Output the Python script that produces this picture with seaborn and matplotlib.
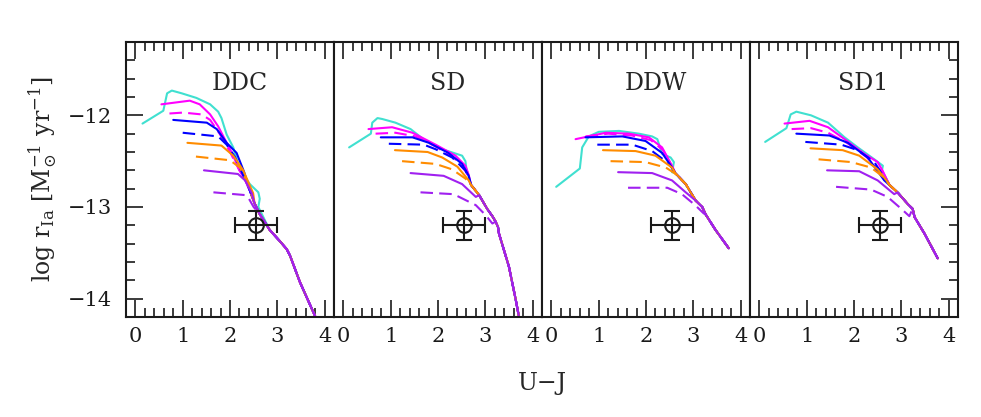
import matplotlib
matplotlib.use("Agg")
import matplotlib.pyplot as plt
import seaborn as sns
from matplotlib.ticker import MultipleLocator

# model names (panel titles)
models = ["DDC", "SD", "DDW", "SD1"]

# observed point with error bars (U-J, log rate)
obs_x, obs_y = 2.55, -13.2
obs_xerr, obs_yerr = 0.45, 0.16

# ---- DDC curves, (U-J, log r) pairs
ddc_cyan = [(0.15, -12.09), (0.59, -11.95), (0.67, -11.76), (0.77, -11.73), (0.98, -11.76),
            (1.29, -11.81), (1.58, -11.88), (1.75, -11.96), (1.82, -12.03), (1.93, -12.21),
            (2.07, -12.35), (2.21, -12.6), (2.42, -12.75), (2.6, -12.84), (2.63, -12.91), (2.6, -13.0)]
ddc_mag_s = [(0.55, -11.88), (1.15, -11.84), (1.36, -11.88), (1.58, -11.99), (1.75, -12.12),
             (1.89, -12.26), (2.05, -12.42), (2.2, -12.6)]
ddc_mag_d = [(0.72, -11.98), (1.01, -11.97), (1.4, -11.99), (1.58, -12.05), (1.78, -12.2),
             (1.95, -12.35), (2.2, -12.6)]
ddc_blue_s = [(0.8, -12.05), (1.51, -12.08), (1.72, -12.15), (1.93, -12.3), (2.14, -12.41), (2.3, -12.62)]
ddc_blue_d = [(1.0, -12.19), (1.75, -12.23), (1.93, -12.32), (2.1, -12.45), (2.25, -12.62)]
ddc_orng_s = [(1.1, -12.3), (1.82, -12.33), (2.07, -12.44), (2.28, -12.6), (2.49, -12.85)]
ddc_orng_d = [(1.28, -12.45), (2.0, -12.49), (2.21, -12.57), (2.35, -12.72)]
ddc_purp_s = [(1.45, -12.6), (2.17, -12.64), (2.32, -12.71), (2.46, -12.85)]
ddc_purp_d = [(1.65, -12.84), (2.32, -12.87), (2.39, -12.9), (2.5, -13.0)]
ddc_tail = [(2.3, -12.68), (2.42, -12.82), (2.52, -12.96), (2.62, -13.07), (2.84, -13.25),
            (3.05, -13.37), (3.2, -13.46), (3.27, -13.53), (3.48, -13.82), (3.8, -14.19), (3.86, -14.28)]

# ---- SD curves
sd_cyan = [(0.12, -12.35), (0.58, -12.2), (0.61, -12.08), (0.72, -12.03), (0.82, -12.04),
           (1.1, -12.08), (1.42, -12.15), (1.74, -12.28), (2.09, -12.37), (2.51, -12.44),
           (2.58, -12.5), (2.6, -12.58)]
sd_mag_s = [(0.53, -12.15), (1.03, -12.13), (1.46, -12.19), (1.95, -12.32), (2.37, -12.44),
            (2.58, -12.55), (2.65, -12.65)]
sd_mag_d = [(0.68, -12.2), (1.1, -12.19), (1.53, -12.23), (1.95, -12.34), (2.35, -12.47), (2.6, -12.62)]
sd_blue_s = [(0.79, -12.24), (1.46, -12.24), (1.81, -12.3), (2.22, -12.41), (2.51, -12.53), (2.65, -12.66)]
sd_blue_d = [(0.96, -12.31), (1.7, -12.32), (1.95, -12.37), (2.3, -12.46), (2.58, -12.6)]
sd_orng_s = [(1.09, -12.38), (1.78, -12.4), (2.09, -12.46), (2.41, -12.56), (2.65, -12.71)]
sd_orng_d = [(1.24, -12.5), (1.95, -12.53), (2.3, -12.59), (2.58, -12.69)]
sd_purp_s = [(1.42, -12.63), (2.12, -12.66), (2.51, -12.75), (2.8, -12.89)]
sd_purp_d = [(1.63, -12.84), (2.33, -12.86), (2.8, -12.98), (3.01, -13.09), (3.15, -13.18)]
sd_tail = [(2.7, -12.76), (2.87, -12.87), (3.04, -13.02), (3.15, -13.1), (3.22, -13.16),
           (3.27, -13.22), (3.29, -13.29), (3.5, -13.65), (3.64, -14.0), (3.71, -14.19), (3.73, -14.3)]

# ---- DDW curves
ddw_cyan = [(0.1, -12.78), (0.6, -12.58), (0.65, -12.35), (0.79, -12.23), (1.0, -12.18),
            (1.43, -12.17), (1.85, -12.2), (2.13, -12.23), (2.24, -12.26), (2.34, -12.42),
            (2.52, -12.46), (2.59, -12.51), (2.55, -12.62)]
ddw_mag_s = [(0.51, -12.26), (1.15, -12.19), (1.64, -12.2), (2.06, -12.24), (2.34, -12.35), (2.55, -12.55)]
ddw_mag_d = [(0.72, -12.23), (1.2, -12.2), (1.7, -12.22), (2.1, -12.27), (2.36, -12.38), (2.55, -12.56)]
ddw_blue_s = [(0.72, -12.24), (1.5, -12.23), (1.99, -12.28), (2.34, -12.41), (2.55, -12.57)]
ddw_blue_d = [(0.97, -12.32), (1.71, -12.32), (2.13, -12.39), (2.49, -12.53)]
ddw_orng_s = [(1.09, -12.38), (1.78, -12.39), (2.2, -12.44), (2.55, -12.57)]
ddw_orng_d = [(1.25, -12.5), (1.99, -12.51), (2.42, -12.57), (2.6, -12.63)]
ddw_purp_s = [(1.41, -12.62), (2.13, -12.63), (2.55, -12.71), (2.84, -12.84)]
ddw_purp_d = [(1.62, -12.79), (2.45, -12.79), (2.76, -12.86), (3.04, -12.98), (3.22, -13.07)]
ddw_tail = [(2.62, -12.63), (2.84, -12.75), (3.05, -12.93), (3.19, -13.0), (3.26, -13.08),
            (3.47, -13.25), (3.75, -13.45)]

# ---- SD1 curves
sd1_cyan = [(0.12, -12.29), (0.57, -12.14), (0.66, -11.99), (0.78, -11.96), (1.09, -12.0),
            (1.45, -12.08), (1.8, -12.24), (2.08, -12.35), (2.43, -12.48), (2.61, -12.55), (2.59, -12.6)]
sd1_mag_s = [(0.53, -12.09), (1.06, -12.06), (1.45, -12.13), (1.8, -12.26), (2.22, -12.42),
             (2.5, -12.51), (2.6, -12.6)]
sd1_mag_d = [(0.68, -12.15), (1.09, -12.14), (1.45, -12.19), (1.85, -12.3), (2.25, -12.45), (2.6, -12.62)]
sd1_blue_s = [(0.78, -12.2), (1.48, -12.22), (1.87, -12.3), (2.29, -12.46), (2.64, -12.71)]
sd1_blue_d = [(0.97, -12.29), (1.73, -12.32), (2.08, -12.38), (2.43, -12.51), (2.64, -12.68)]
sd1_orng_s = [(1.08, -12.36), (1.76, -12.38), (2.11, -12.44), (2.5, -12.59), (2.7, -12.72)]
sd1_orng_d = [(1.25, -12.48), (1.94, -12.51), (2.36, -12.57), (2.64, -12.68)]
sd1_purp_s = [(1.43, -12.6), (2.11, -12.61), (2.5, -12.71), (2.85, -12.86)]
sd1_purp_d = [(1.62, -12.78), (2.36, -12.81), (2.71, -12.89), (3.0, -13.02), (3.17, -13.1)]
sd1_tail = [(2.75, -12.76), (2.92, -12.84), (3.14, -12.97), (3.24, -13.02), (3.28, -13.11),
            (3.49, -13.29), (3.77, -13.56)]

panels = {
    "DDC": ([ddc_cyan, ddc_mag_s, ddc_mag_d, ddc_blue_s, ddc_blue_d,
             ddc_orng_s, ddc_orng_d, ddc_purp_s, ddc_purp_d], ddc_tail),
    "SD": ([sd_cyan, sd_mag_s, sd_mag_d, sd_blue_s, sd_blue_d,
            sd_orng_s, sd_orng_d, sd_purp_s, sd_purp_d], sd_tail),
    "DDW": ([ddw_cyan, ddw_mag_s, ddw_mag_d, ddw_blue_s, ddw_blue_d,
             ddw_orng_s, ddw_orng_d, ddw_purp_s, ddw_purp_d], ddw_tail),
    "SD1": ([sd1_cyan, sd1_mag_s, sd1_mag_d, sd1_blue_s, sd1_blue_d,
             sd1_orng_s, sd1_orng_d, sd1_purp_s, sd1_purp_d], sd1_tail),
}

# colour / style for the 9 curves in each panel (same order as above)
curve_colors = ["#40E0D0", "#FF00FF", "#FF00FF", "#0000FF", "#0000FF",
                "#FF8C00", "#FF8C00", "#A020F0", "#A020F0"]
curve_dashed = [False, False, True, False, True, False, True, False, True]


def join(head, tail):
    # curve head followed by the shared tail of the panel
    pts = head + [p for p in tail if p[0] > head[-1][0] + 0.02]
    return [p[0] for p in pts], [p[1] for p in pts]


sns.set_theme(style="ticks")
plt.rcParams["font.family"] = ["DejaVu Serif"]
plt.rcParams["mathtext.fontset"] = "dejavuserif"

fig, axes = plt.subplots(1, 4, figsize=(9.81, 4.17), dpi=100, sharey=True)
fig.subplots_adjust(left=0.1284, right=0.9766, top=0.8993, bottom=0.2398, wspace=0)

for i, (ax, name) in enumerate(zip(axes, models)):
    heads, tail = panels[name]
    for head, c, dsh in zip(heads, curve_colors, curve_dashed):
        xs, ys = join(head, tail)
        ls = (0, (6, 3)) if dsh else "-"
        sns.lineplot(x=xs, y=ys, sort=False, estimator=None, color=c,
                     lw=1.5, linestyle=ls, ax=ax)

    ax.errorbar(obs_x, obs_y, xerr=obs_xerr, yerr=obs_yerr, fmt="o", mfc="none",
                mec="k", mew=1.5, ms=10.5, ecolor="k", elinewidth=1.5,
                capsize=5.5, capthick=1.5, zorder=5)
    ax.text(2.2, -11.65, name, ha="center", va="center", fontsize=17)

    ax.set_xlim(-0.2, 4.2)
    ax.set_ylim(-14.2, -11.2)
    ax.xaxis.set_major_locator(MultipleLocator(1))
    ax.xaxis.set_minor_locator(MultipleLocator(0.2))
    ax.yaxis.set_major_locator(MultipleLocator(1))
    ax.yaxis.set_minor_locator(MultipleLocator(0.2))
    ax.tick_params(which="both", direction="in", top=True, bottom=True,
                   left=(i == 0), right=(i == 3), labelleft=(i == 0),
                   labelright=False, width=1.2, labelsize=15, colors="k")
    ax.tick_params(which="major", length=12, pad=7)
    ax.tick_params(which="minor", length=6.5)
    ax.tick_params(axis="y", which="major", pad=10)
    for sp in ax.spines.values():
        sp.set_linewidth(1.5)
        sp.set_color("k")
    ax.set_xlabel("")
    ax.set_ylabel("")

axes[0].set_ylabel(r"log r$_{\rm Ia}$ [M$_{\odot}^{-1}$ yr$^{-1}$]", fontsize=17, labelpad=6)
fig.text(0.5525, 0.08, "U\u2212J", ha="center", va="center", fontsize=17)

fig.savefig("out.png", dpi=100)
